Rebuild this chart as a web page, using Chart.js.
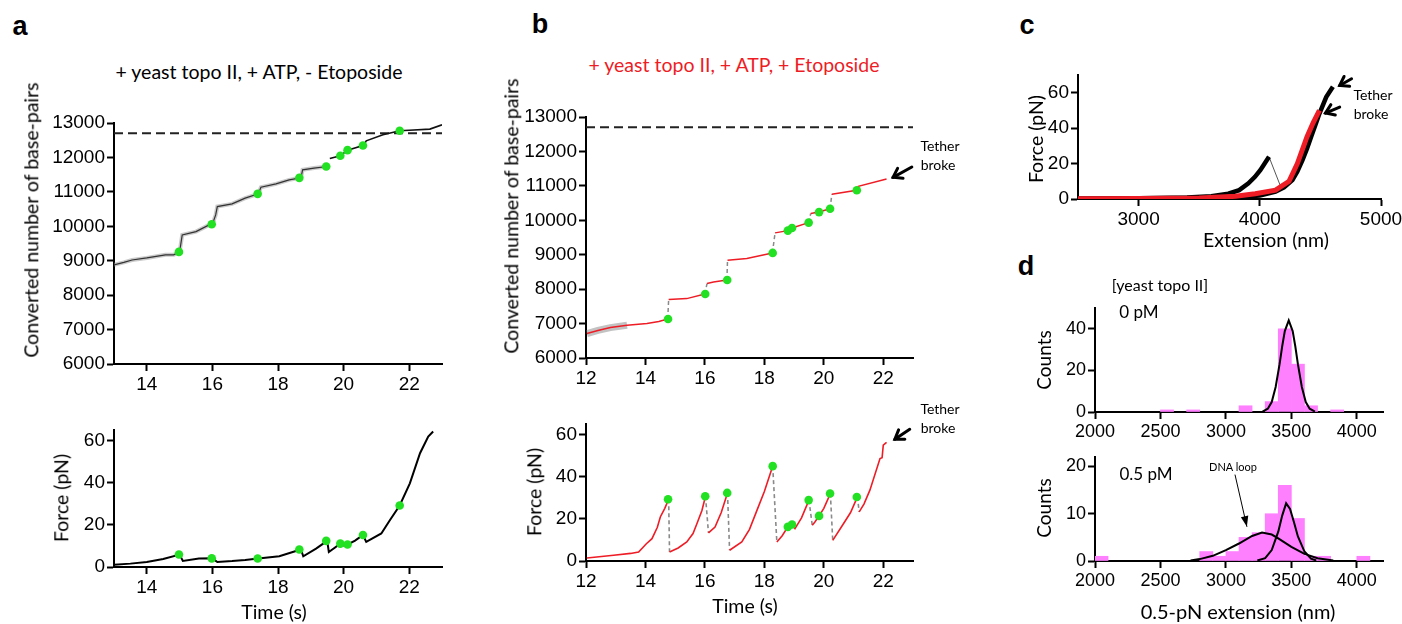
<!DOCTYPE html>
<html>
<head>
<meta charset="utf-8">
<script src="https://cdn.jsdelivr.net/npm/chart.js@4.4.1/dist/chart.umd.min.js"></script>
<style>
  body { margin: 0; width: 1402px; height: 624px; overflow: hidden; background: #fff; position: relative; font-family: Lato, "Open Sans", sans-serif; }
  canvas { position: absolute; }
  .t { position: absolute; white-space: nowrap; transform: translate(-50%, -50%); color: #000; line-height: 1.2; }
  .r { transform: translate(-50%, -50%) rotate(-90deg); }
  .p { font-family: "Liberation Sans", Arial, sans-serif; font-weight: bold; font-size: 27px; }
</style>
</head>
<body>
<div class="t p" style="left:20px;top:26px">a</div>
<div class="t p" style="left:540px;top:24px">b</div>
<div class="t p" style="left:1027px;top:25px">c</div>
<div class="t p" style="left:1026px;top:266px">d</div>

<div class="t" style="left:259px;top:72px;font-size:19.5px">+ yeast topo II, + ATP, - Etoposide</div>
<div class="t" style="left:734px;top:65px;font-size:19.5px;color:#ee1c25">+ yeast topo II, + ATP, + Etoposide</div>

<div class="t r" style="left:31px;top:220px;font-size:19.5px">Converted number of base-pairs</div>
<div class="t r" style="left:511px;top:216px;font-size:19.5px">Converted number of base-pairs</div>
<div class="t r" style="left:61px;top:498px;font-size:19.5px">Force (pN)</div>
<div class="t r" style="left:534px;top:492px;font-size:19.5px">Force (pN)</div>
<div class="t" style="left:274px;top:612px;font-size:19.5px">Time (s)</div>
<div class="t" style="left:745px;top:606px;font-size:19.5px">Time (s)</div>

<div class="t" style="left:940px;top:146px;font-size:14px">Tether</div>
<div class="t" style="left:938px;top:165px;font-size:14px">broke</div>
<div class="t" style="left:940px;top:409px;font-size:14px">Tether</div>
<div class="t" style="left:938px;top:428px;font-size:14px">broke</div>

<div class="t r" style="left:1036px;top:139px;font-size:19.5px">Force (pN)</div>
<div class="t" style="left:1266px;top:240px;font-size:19.5px">Extension (nm)</div>
<div class="t" style="left:1373px;top:95px;font-size:14px">Tether</div>
<div class="t" style="left:1371px;top:114px;font-size:14px">broke</div>

<div class="t" style="left:1160px;top:285px;font-size:16px">[yeast topo II]</div>
<div class="t" style="left:1139px;top:312px;font-size:17px">0 pM</div>
<div class="t" style="left:1146px;top:474px;font-size:17px">0.5 pM</div>
<div class="t" style="left:1233px;top:467px;font-size:11px">DNA loop</div>
<div class="t r" style="left:1044px;top:360px;font-size:19px">Counts</div>
<div class="t r" style="left:1044px;top:508px;font-size:19px">Counts</div>
<div class="t" style="left:1238px;top:611px;font-size:20px">0.5-pN extension (nm)</div>

<script>
// ---- panel a, top: base-pairs vs time ----
const aTime1 = [13.0, 13.3, 13.55, 14.0, 14.57, 14.82, 15.0, 15.08, 15.5, 15.9, 16.0, 16.1, 16.15, 16.6, 17.0, 17.4, 17.48, 17.94, 18.34, 18.7, 18.75, 19.1, 19.5];
const aBp1 = [8880, 8950, 9020, 9080, 9170, 9170, 9256, 9750, 9846, 10041, 10061, 10330, 10573, 10650, 10817, 10942, 11136, 11233, 11349, 11407, 11640, 11690, 11736];
const aTime2 = [19.58, 19.9, 20.12, 20.59, 20.64, 20.69, 21.2, 21.71, 22.0, 22.63, 23.0];
const aBp2 = [11968, 12047, 12212, 12347, 12400, 12483, 12657, 12773, 12790, 12823, 12948];
const aStepT = [14.98, 15.98, 17.38, 18.65, 19.47, 19.9, 20.12, 20.59, 21.71];
const aStepBp = [9256, 10061, 10942, 11407, 11736, 12047, 12212, 12347, 12773];
const refT = [13, 23];
const refBp = [12700, 12700];

// ---- panel a, bottom: force vs time ----
const aForceT = [13.0, 13.5, 14.0, 14.5, 15.0, 15.1, 15.59, 16.0, 16.15, 16.6, 17.0, 17.4, 18.04, 18.45, 18.7, 18.77, 19.16, 19.5, 19.55, 19.9, 20.0, 20.12, 20.35, 20.59, 20.69, 21.15, 21.41, 21.71, 22.02, 22.33, 22.58, 22.73];
const aForce = [1.1, 1.6, 2.4, 3.8, 5.9, 2.9, 4.0, 4.1, 2.4, 2.8, 3.3, 4.0, 5.1, 7.1, 8.3, 5.1, 8.7, 12.4, 7.1, 11.1, 10.2, 10.7, 12.5, 15.2, 11.9, 15.9, 22.2, 29.2, 39.7, 54.0, 61.9, 64.3];
const aStepF = [5.9, 4.1, 4.0, 8.3, 12.4, 11.1, 10.7, 15.2, 29.2];

// ---- panel b, top ----
const bTime = [12.03, 12.4, 12.82, 13.38, 14.05, 14.45, 14.75, 14.78, 15.39, 16.0, 16.07, 16.29, 16.74, 16.76, 17.41, 18.27, 18.36, 18.79, 18.93, 19.49, 19.56, 19.83, 20.21, 20.27, 21.1, 21.16, 22.11];
const bBp = [6709, 6800, 6883, 6950, 6999, 7060, 7134, 7696, 7725, 7860, 8161, 8207, 8267, 8838, 8887, 9052, 9634, 9700, 9777, 9933, 10198, 10238, 10335, 10756, 10872, 10987, 11202];
const bRefT = [12, 23];
const bStepT = [14.76, 16.01, 16.75, 18.28, 18.79, 18.93, 19.49, 19.84, 20.21, 21.11];
const bStepBp = [7134, 7860, 8267, 9052, 9700, 9777, 9933, 10238, 10335, 10872];

// ---- panel b, bottom ----
const bForceT = [12.03, 12.93, 13.5, 13.77, 14.03, 14.22, 14.4, 14.5, 14.65, 14.78, 14.81, 15.1, 15.39, 15.6, 15.73, 15.9, 16.02, 16.12, 16.34, 16.55, 16.76, 16.83, 17.24, 17.5, 17.75, 18.0, 18.28, 18.42, 18.6, 18.79, 18.93, 19.03, 19.25, 19.5, 19.61, 19.7, 19.84, 20.0, 20.22, 20.3, 20.66, 20.9, 21.13, 21.19, 21.35, 21.55, 21.89, 21.96, 22.0, 22.11];
const bForce = [1.4, 2.7, 3.6, 4.3, 8.2, 10.6, 16.0, 20.9, 25.0, 29.3, 4.3, 6.2, 9.0, 13.0, 17.7, 24.0, 30.7, 13.3, 16.1, 23.0, 32.3, 5.1, 9.0, 15.0, 24.0, 33.0, 45.0, 9.0, 12.0, 16.2, 17.3, 15.4, 20.5, 28.9, 17.0, 18.5, 21.4, 25.0, 32.0, 9.8, 17.7, 23.0, 30.4, 23.3, 27.0, 33.6, 48.6, 49.0, 55.0, 56.3];
const bStepF = [29.3, 30.7, 32.3, 45.0, 16.2, 17.3, 28.9, 21.4, 32.0, 30.4];

// ---- panel c: force-extension ----
const cExt1 = [2500, 3000, 3400, 3600, 3740, 3830, 3906, 3960, 4004, 4040, 4076];
const cF1 = [0.2, 0.4, 0.9, 1.5, 3.0, 5.0, 8.8, 12.5, 16.3, 20.0, 23.8];
const cJumpExt = [4076, 4167];
const cJumpF = [23.8, 7.9];
const cExt2 = [2500, 3000, 3500, 3800, 4000, 4130, 4200, 4269, 4310, 4352, 4390, 4423, 4460, 4492, 4548, 4603];
const cF2 = [0.1, 0.3, 0.6, 1.0, 2.0, 4.1, 6.5, 10.7, 15.5, 21.9, 28.5, 35.0, 42.0, 48.2, 57.5, 63.4];
const cExtRed = [2500, 3000, 3500, 3800, 3962, 4130, 4241, 4310, 4389, 4440, 4492];
const cFRed = [0.1, 0.3, 0.6, 1.5, 3.0, 5.0, 10.0, 20.0, 35.0, 43.0, 50.0];

// ---- panel d: histograms of 0.5-pN extension ----
const dTopBins = [2550, 2750, 3150, 3350, 3450, 3550, 3650, 3850];
const dTopCounts = [1, 1, 3, 5, 40, 23, 3, 1];
const dTopFitX = [3280, 3320, 3350, 3380, 3410, 3430, 3450, 3480, 3510, 3530, 3550, 3580, 3610, 3640, 3680];
const dTopFitY = [0.2, 1.6, 4.8, 12.0, 23.0, 31.6, 38.9, 44.0, 38.9, 31.6, 23.0, 12.0, 4.8, 1.6, 0.2];
const dBotBins = [2050, 2850, 2950, 3050, 3150, 3250, 3350, 3450, 3550, 3650, 3750, 4050];
const dBotCounts = [1, 2, 1, 2, 5, 6, 10, 16, 9, 1, 1, 1];
const dLoopFitX = [2730, 2800, 2900, 3000, 3100, 3200, 3276, 3350, 3400, 3500, 3600, 3700, 3820];
const dLoopFitY = [0.1, 0.4, 1.1, 2.3, 3.7, 5.3, 6.0, 5.6, 4.8, 3.0, 1.5, 0.6, 0.1];
const dMainFitX = [3240, 3300, 3350, 3400, 3430, 3460, 3490, 3520, 3550, 3600, 3650, 3690];
const dMainFitY = [0.1, 0.6, 2.3, 6.2, 9.6, 12.2, 11.0, 8.2, 5.2, 2.0, 0.5, 0.1];

const GREEN = '#22e022';
const RED = '#ee1c25';
const xy = (xs, ys) => xs.map((x, i) => ({x: x, y: ys[i]}));

const PAD_L = 90, PAD_R = 40, PAD_T = 16, PAD_B = 46;

const arrowPlugin = {
    id: 'arrows',
    afterDatasetsDraw(chart, args, opts) {
        const ctx = chart.ctx, sx = chart.scales.x, sy = chart.scales.y;
        (opts.list || []).forEach(a => {
            const x0 = sx.getPixelForValue(a.from[0]), y0 = sy.getPixelForValue(a.from[1]);
            const x1 = sx.getPixelForValue(a.to[0]), y1 = sy.getPixelForValue(a.to[1]);
            const ang = Math.atan2(y1 - y0, x1 - x0);
            ctx.save();
            ctx.strokeStyle = '#000';
            ctx.fillStyle = '#000';
            ctx.lineWidth = a.width;
            ctx.lineCap = 'round';
            ctx.beginPath();
            ctx.moveTo(x0, y0);
            ctx.lineTo(x1, y1);
            ctx.stroke();
            const L = a.head, s = a.spread;
            ctx.beginPath();
            ctx.moveTo(x1 - L * Math.cos(ang - s), y1 - L * Math.sin(ang - s));
            ctx.lineTo(x1, y1);
            ctx.lineTo(x1 - L * Math.cos(ang + s), y1 - L * Math.sin(ang + s));
            if (a.filled) { ctx.closePath(); ctx.fill(); } else { ctx.stroke(); }
            ctx.restore();
        });
    }
};

function axis(min, max, ticks, size, fit) {
    return {
        type: 'linear', min: min, max: max, offset: false,
        afterBuildTicks: s => { s.ticks = ticks.map(v => ({value: v})); },
        afterFit: fit,
        border: {display: true, color: '#000', width: 2},
        grid: {display: true, offset: false, drawOnChartArea: false, drawTicks: true, tickLength: 7, tickWidth: 2, color: '#000', tickColor: '#000'},
        ticks: {color: '#000', font: {family: 'Liberation Sans', size: size}, padding: 2, autoSkip: false, maxRotation: 0,
                callback: v => String(v)}
    };
}

function panel(rect, type, datasets, xr, yr, size, arrows) {
    const c = document.createElement('canvas');
    const w = rect.r - rect.l + PAD_L + PAD_R, h = rect.b - rect.t + PAD_T + PAD_B;
    c.width = w; c.height = h;
    c.style.left = (rect.l - PAD_L) + 'px';
    c.style.top = (rect.t - PAD_T) + 'px';
    c.style.width = w + 'px';
    c.style.height = h + 'px';
    document.body.insertBefore(c, document.body.firstChild);
    return new Chart(c, {
        type: type,
        data: {datasets: datasets},
        plugins: [arrowPlugin],
        options: {
            responsive: false, animation: false, devicePixelRatio: 1,
            layout: {padding: {top: PAD_T, right: PAD_R, left: 0, bottom: 0}},
            elements: {point: {radius: 0}, line: {tension: 0}},
            plugins: {legend: {display: false}, tooltip: {enabled: false}, arrows: {list: arrows || []}},
            scales: {
                x: axis(xr[0], xr[1], xr[2], size, s => { s.height = PAD_B; }),
                y: axis(yr[0], yr[1], yr[2], size, s => { s.width = PAD_L; })
            }
        }
    });
}

function steps(xs, ys) {
    return {type: 'scatter', data: xy(xs, ys), showLine: false, pointRadius: 4.3, pointBackgroundColor: GREEN, pointBorderWidth: 0, order: 0};
}
function line(xs, ys, color, width, order, extra) {
    return Object.assign({type: 'line', data: xy(xs, ys), borderColor: color, borderWidth: width, pointRadius: 0, fill: false, order: order}, extra || {});
}
const dashIf = test => ({
    borderColor: ctx => test(ctx) ? '#8a8a8a' : undefined,
    borderDash: ctx => test(ctx) ? [4, 3] : undefined
});
const slope = ctx => (ctx.p1.parsed.y - ctx.p0.parsed.y) / (ctx.p1.parsed.x - ctx.p0.parsed.x);

// a top
panel({l: 114, r: 442, t: 123, b: 364}, 'line', [
    steps(aStepT, aStepBp),
    line(aTime1, aBp1, '#333', 1.2, 1),
    line(aTime1, aBp1, 'rgba(150,150,150,0.5)', 4, 3),
    line(aTime2, aBp2, '#111', 1.6, 1),
    line(refT, refBp, '#222', 2, 2, {borderDash: [9, 5]})
], [13, 23, [14, 16, 18, 20, 22]], [6000, 13000, [6000, 7000, 8000, 9000, 10000, 11000, 12000, 13000]], 19);

// a bottom
panel({l: 114, r: 442, t: 430, b: 567}, 'line', [
    steps(aStepT, aStepF),
    line(aForceT, aForce, '#000', 2, 1)
], [13, 23, [14, 16, 18, 20, 22]], [0, 65, [0, 20, 40, 60]], 19);

// b top
panel({l: 586, r: 913, t: 117, b: 358}, 'line', [
    steps(bStepT, bStepBp),
    line(bTime, bBp, RED, 1.5, 1, {segment: dashIf(ctx => slope(ctx) > 2500)}),
    line(bTime.slice(0, 4), bBp.slice(0, 4), 'rgba(120,120,120,0.45)', 7, 3),
    line(bRefT, refBp, '#222', 2, 2, {borderDash: [9, 5]})
], [12, 23, [12, 14, 16, 18, 20, 22]], [6000, 13000, [6000, 7000, 8000, 9000, 10000, 11000, 12000, 13000]], 19,
[{from: [22.96, 11547], to: [22.33, 11248], width: 3, head: 10, spread: 0.6}]);

// b bottom
panel({l: 586, r: 913, t: 424, b: 561}, 'line', [
    steps(bStepT, bStepF),
    line(bForceT, bForce, RED, 1.6, 1, {segment: dashIf(ctx => slope(ctx) < -80)})
], [12, 23, [12, 14, 16, 18, 20, 22]], [0, 65, [0, 20, 40, 60]], 19,
[{from: [22.89, 62.5], to: [22.39, 57.8], width: 3, head: 10, spread: 0.6}]);

// c
panel({l: 1078, r: 1381, t: 75, b: 199}, 'line', [
    line(cExtRed, cFRed, RED, 5, 0),
    line(cExt1, cF1, '#000', 4.5, 1),
    line(cExt2, cF2, '#000', 4.5, 1),
    line(cJumpExt, cJumpF, '#555', 1, 2)
], [2500, 5000, [3000, 4000, 5000]], [0, 70, [0, 20, 40, 60]], 19,
[{from: [4757, 67.9], to: [4659, 64.1], width: 3, head: 10, spread: 0.6},
 {from: [4659, 51.9], to: [4542, 48.5], width: 3, head: 10, spread: 0.6}]);

// d top
const barStyle = {type: 'bar', backgroundColor: '#ff80ff', barPercentage: 1, categoryPercentage: 1, order: 1};
panel({l: 1095, r: 1383, t: 308, b: 412}, 'bar', [
    Object.assign({data: xy(dTopBins, dTopCounts)}, barStyle),
    line(dTopFitX, dTopFitY, '#000', 2, 0)
], [2000, 4200, [2000, 2500, 3000, 3500, 4000]], [0, 50, [0, 20, 40]], 18);

// d bottom
panel({l: 1095, r: 1383, t: 457, b: 561}, 'bar', [
    Object.assign({data: xy(dBotBins, dBotCounts)}, barStyle),
    line(dLoopFitX, dLoopFitY, '#000', 2, 0),
    line(dMainFitX, dMainFitY, '#000', 2, 0)
], [2000, 4200, [2000, 2500, 3000, 3500, 4000]], [0, 22, [0, 10, 20]], 18,
[{from: [3070, 18.2], to: [3160, 7.3], width: 1, head: 11, spread: 0.35, filled: true}]);
</script>
</body>
</html>
